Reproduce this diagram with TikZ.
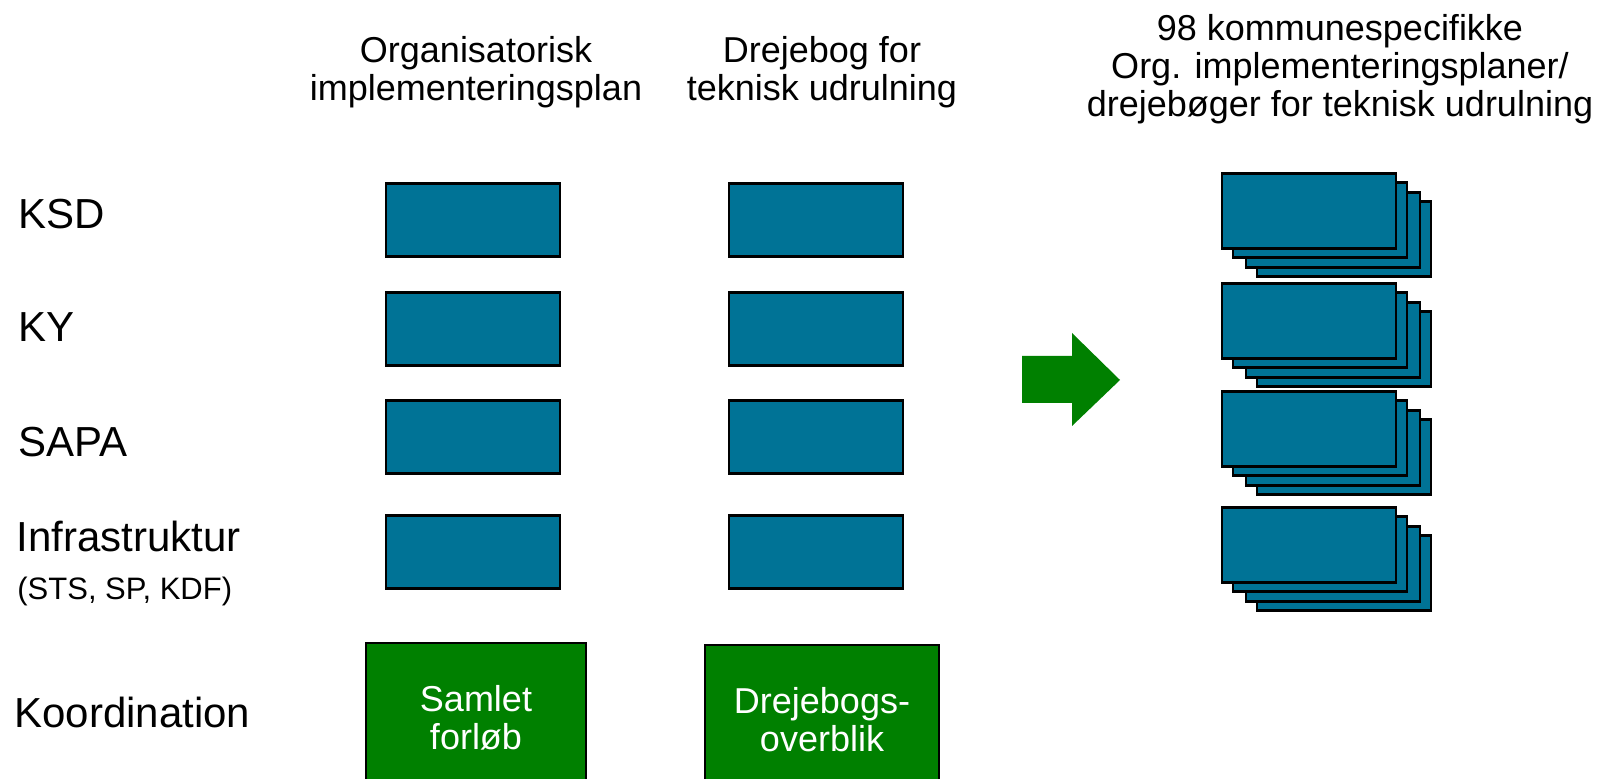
\documentclass[tikz,border=0pt]{standalone}
\usepackage{fontspec}
\setmainfont{Liberation Sans}
\definecolor{planblue}{RGB}{0,115,150}
\definecolor{planGreen}{RGB}{0,128,0}
\tikzset{
  planbox/.style={draw=black, line width=1.2pt, fill=planblue,
    minimum width=87pt, minimum height=36.5pt, inner sep=0pt},
  koordbox/.style={draw=black, line width=1.2pt, fill=planGreen, text=white,
    minimum height=75pt, align=center, inner sep=0pt,
    font=\fontsize{18}{19}\selectfont},
  head/.style={align=center, inner sep=0pt, font=\fontsize{18}{19}\selectfont},
  rowlabel/.style={anchor=west, inner sep=0pt, font=\fontsize{21}{24}\selectfont},
}
\begin{document}
\begin{tikzpicture}[x=0.5pt,y=-0.5pt]
  \clip (0,0) rectangle (1601,779);
  % column headers
  \node[head] (h1) at (476,72) {Organisatorisk\\implementeringsplan};
  \node[head] (h2) at (822,72) {Drejebog for\\teknisk udrulning};
  \node[head] (h3) at (1340,69) {98 kommunespecifikke\\Org. implementeringsplaner/\\drejebøger for teknisk udrulning};
  % row labels
  \node[rowlabel] (ksd) at (18,214) {KSD};
  \node[rowlabel] (ky) at (18,327) {KY};
  \node[rowlabel] (sapa) at (18,442) {SAPA};
  \node[rowlabel] (infra) at (16,536) {Infrastruktur};
  \node[rowlabel, font=\fontsize{15.5}{18}\selectfont] (infrasub) at (17,591) {(STS, SP, KDF)};
  \node[rowlabel] (koord) at (14,712) {Koordination};
  % plan boxes
  \foreach \name/\y in {ksd/220,ky/329,sapa/437,infra/552} {
    \node[planbox] (org-\name) at (473,\y) {};
    \node[planbox] (drej-\name) at (816,\y) {};
  }
  % coordination
  \node[koordbox, minimum width=110pt] (samlet) at (476,718) {Samlet\\forløb};
  \node[koordbox, minimum width=117pt] (overblik) at (822,720) {Drejebogs-\\overblik};
  % arrow
  \fill[planGreen] (1022,356) -- (1072,356) -- (1072,333) -- (1120,380)
    -- (1072,426) -- (1072,403) -- (1022,403) -- cycle;
  % stacks of 98 plans
  \foreach \g/\y in {1/211,2/321,3/429,4/545} {
    \foreach \k/\dx/\dy in {3/35/28,2/24/19,1/11/9,0/0/0}
      \node[planbox, minimum height=37.5pt] (stak-\g-\k) at (1309+\dx,\y+\dy) {};
  }
\end{tikzpicture}
\end{document}
